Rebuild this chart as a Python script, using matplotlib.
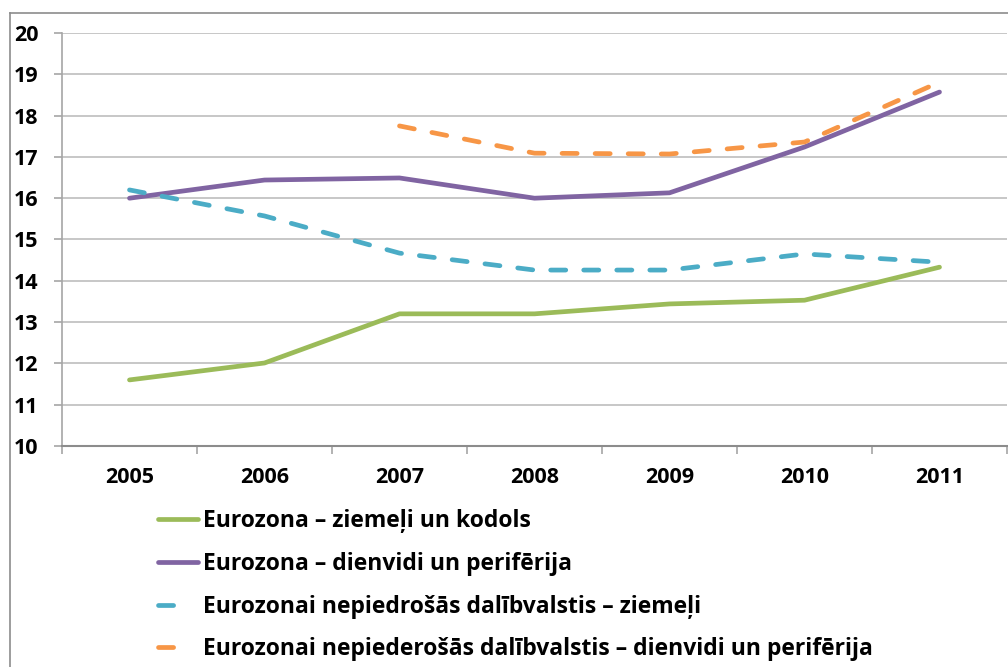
import numpy as np
import matplotlib
matplotlib.use("Agg")
import matplotlib.pyplot as plt
from matplotlib.lines import Line2D

years = ["2005", "2006", "2007", "2008", "2009", "2010", "2011"]
ez_north = [11.60, 12.01, 13.20, 13.20, 13.44, 13.53, 14.33]
ez_south = [16.00, 16.44, 16.49, 16.00, 16.13, 17.24, 18.57]
non_north = [16.20, 15.57, 14.67, 14.26, 14.26, 14.65, 14.45]
non_south = [np.nan, np.nan, 17.75, 17.09, 17.07, 17.36, 18.81]
labels = [
    "Eurozona – ziemeļi un kodols",
    "Eurozona – dienvidi un perifērija",
    "Eurozonai nepiedrošās dalībvalstis – ziemeļi",
    "Eurozonai nepiederošās dalībvalstis – dienvidi un perifērija",
]
yticks = list(range(10, 21))

plt.rcParams['font.family'] = ['Open Sans', 'DejaVu Sans']

W, H = 1008, 667
fig = plt.figure(figsize=(W / 100, H / 100), dpi=100)
ax = fig.add_axes([62 / W, 1 - 446 / H, (1007 - 62) / W, (446 - 33) / H])

x = np.arange(len(years))
lw = 3.4
dash = (0, (3.2, 3.8))
ax.plot(x, ez_north, color="#9BBB59", lw=lw, solid_capstyle="round", label=labels[0], zorder=3)
ax.plot(x, ez_south, color="#8064A2", lw=lw, solid_capstyle="round", label=labels[1], zorder=3)
ax.plot(x, non_north, color="#4BACC6", lw=lw, linestyle=dash, dash_capstyle="round", label=labels[2], zorder=3)
ax.plot(x, non_south, color="#F79646", lw=lw, linestyle=dash, dash_capstyle="round", label=labels[3], zorder=3)

ax.set_xlim(-0.5, len(years) - 0.5)
ax.set_ylim(10, 20)
ax.set_yticks(yticks)
ax.set_yticklabels([str(v) for v in yticks], fontsize=15.5, fontweight="bold")
ax.yaxis.grid(True, color="#BEBEBE", lw=1.2)
ax.set_axisbelow(True)

ax.set_xticks(np.arange(len(years) + 1) - 0.5)
ax.set_xticklabels([])
ax.set_xticks(x, minor=True)
ax.set_xticklabels(years, minor=True, fontsize=15.5, fontweight="bold")
ax.tick_params(axis="x", which="minor", length=0, pad=15)
ax.tick_params(axis="x", which="major", length=6, color="#A6A6A6", width=1.2)
ax.tick_params(axis="y", length=6, color="#A6A6A6", width=1.2, pad=11)

for s in ["top", "right"]:
    ax.spines[s].set_visible(False)
ax.spines["left"].set_color("#A6A6A6")
ax.spines["left"].set_linewidth(1.2)
ax.spines["bottom"].set_color("#8C8C8C")
ax.spines["bottom"].set_linewidth(1.5)

# chart area border (left and top)
fig.add_artist(Line2D([10 / W, 10 / W], [0, 1 - 13 / H], transform=fig.transFigure, color="#8C8C8C", lw=1.2))
fig.add_artist(Line2D([10 / W, 1], [1 - 13 / H, 1 - 13 / H], transform=fig.transFigure, color="#8C8C8C", lw=1.2))

handles = [
    Line2D([], [], color="#9BBB59", lw=lw, solid_capstyle="round"),
    Line2D([], [], color="#8064A2", lw=lw, solid_capstyle="round"),
    Line2D([], [], color="#4BACC6", lw=lw, linestyle=(0, (3.2, 20)), dash_capstyle="round"),
    Line2D([], [], color="#F79646", lw=lw, linestyle=(0, (3.2, 20)), dash_capstyle="round"),
]
leg = fig.legend(handles, labels, loc="upper left", bbox_to_anchor=(158 / W, 1 - 509 / H),
                 frameon=False, prop={"size": 16.5, "weight": "bold"},
                 handlelength=1.75, handletextpad=0.2, labelspacing=0.82, borderpad=0, borderaxespad=0)

fig.savefig("out.png", dpi=100)
